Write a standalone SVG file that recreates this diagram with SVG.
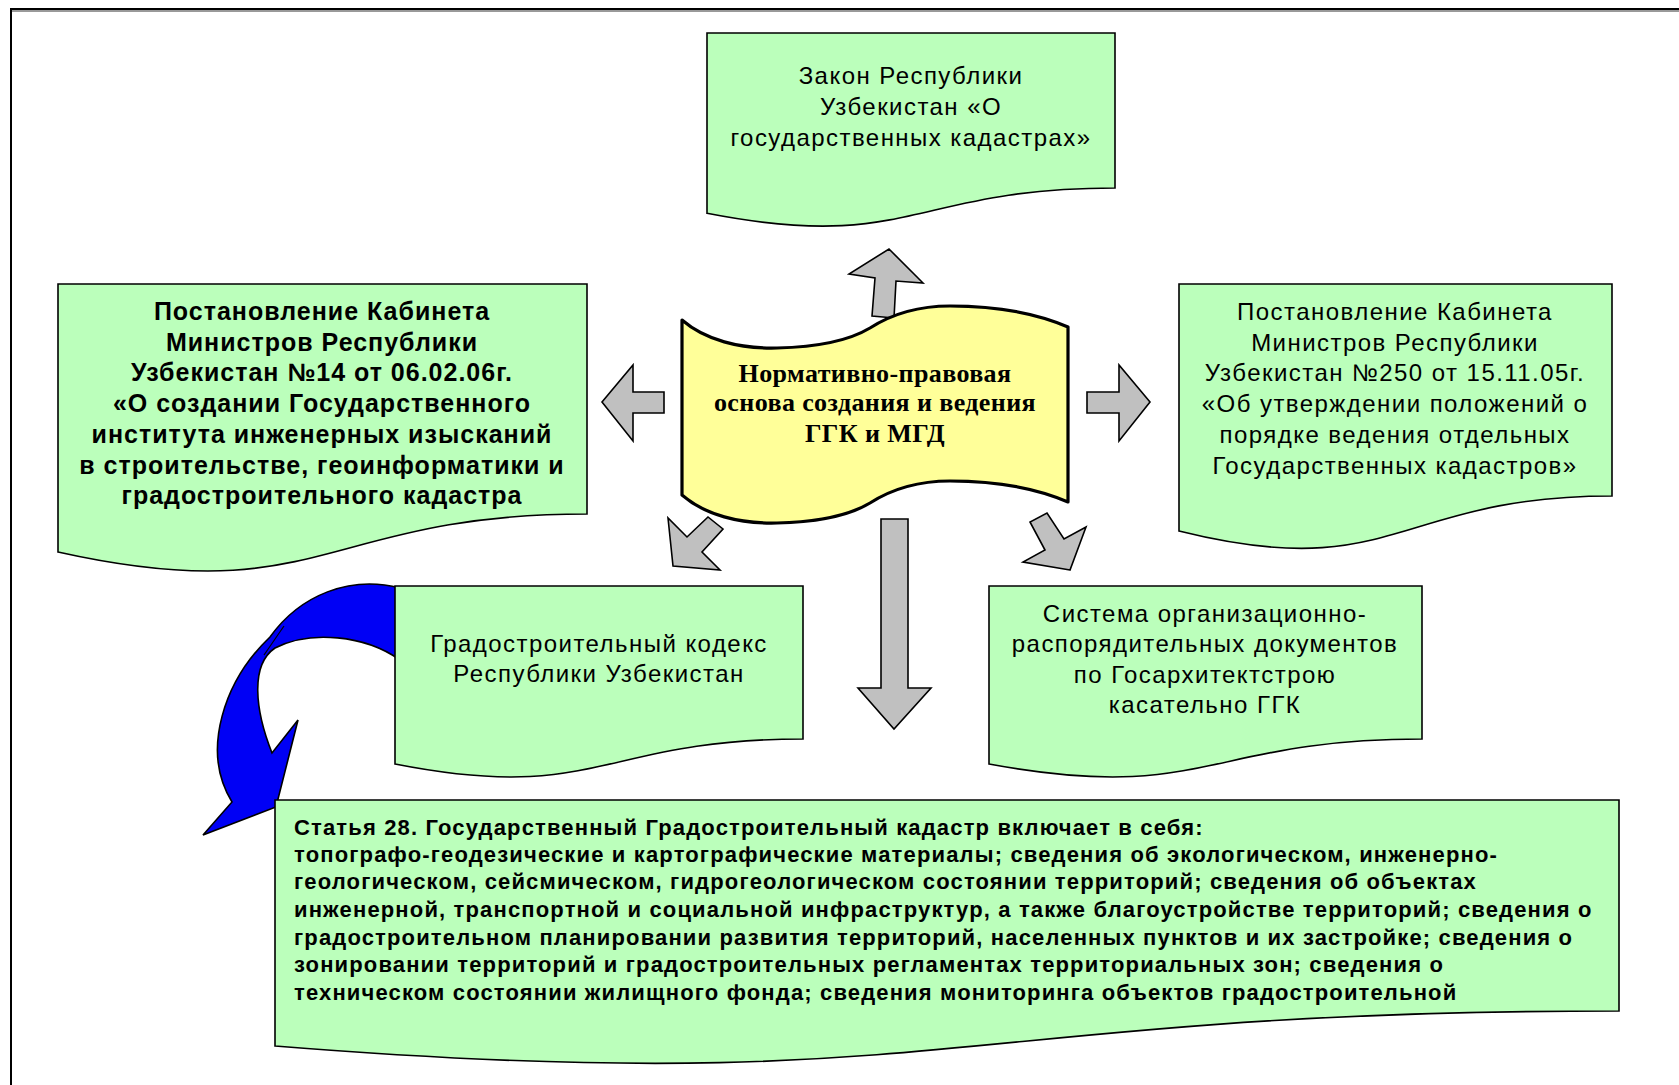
<svg xmlns="http://www.w3.org/2000/svg" width="1679" height="1085" viewBox="0 0 1679 1085">
<style>
.doc{fill:#BBFFBB;stroke:#000;stroke-width:1.6}
.arr{fill:#C0C0C0;stroke:#000;stroke-width:1.6;stroke-linejoin:miter}
.t{font-family:"Liberation Sans",Arial,sans-serif;font-size:24px;letter-spacing:1.45px;fill:#000;text-anchor:middle}
.b{font-weight:bold;font-size:25px;letter-spacing:1px}
.s{font-family:"Liberation Serif","Times New Roman",serif;font-size:26px;letter-spacing:0.4px;font-weight:bold;fill:#000;text-anchor:middle}
.bt{font-family:"Liberation Sans",Arial,sans-serif;font-size:22px;letter-spacing:1.15px;font-weight:bold;fill:#000}
</style>
<rect x="0" y="0" width="1679" height="1085" fill="#fff"/>
<g id="frame">
<line x1="10" y1="11" x2="1679" y2="11" stroke="#999" stroke-width="2"/>
<line x1="10" y1="9" x2="1679" y2="9" stroke="#000" stroke-width="2"/>
<line x1="11" y1="8" x2="11" y2="1085" stroke="#000" stroke-width="2"/>
</g>
<g id="connectors">
<g id="blue-arrow">
<path d="M400,588 C350,575 300,595 270,637 C225,680 200,750 232,802 L203,835 L276,807 L298,720 L272,753 C255,710 250,665 275,648 C310,630 365,635 400,660 Z" fill="#0000F5" stroke="#000" stroke-width="1.6" stroke-linejoin="miter"/>
<path d="M264,655 L284,626" fill="none" stroke="#000" stroke-width="1.2"/>
</g>
<polygon class="arr" points="889,249 923,283 896,281 894,318 872,316 875,278 849,274"/>
<polygon class="arr" points="602,402 633,365 633,392 664,392 664,413 633,413 633,441"/>
<polygon class="arr" points="1087,392 1119,392 1119,365 1150,402 1119,441 1119,413 1087,413"/>
<polygon class="arr" points="673,566 668,518 687,537 708,517 723,529 702,552 720,570"/>
<polygon class="arr" points="1070,570 1023,562 1045,550 1030,522 1047,513 1064,539 1086,527"/>
<polygon class="arr" points="881,519 908,519 908,688 931,688 894,729 858,688 881,688"/>
</g>
<g id="node-zakon">
<path class="doc" d="M707,33 H1115 V188 C911,188 911,253 707,213.3 Z"/>
<text class="t" x="911" y="84">Закон Республики</text>
<text class="t" x="911" y="115">Узбекистан «О</text>
<text class="t" x="911" y="146">государственных кадастрах»</text>
</g>
<g id="node-postanovlenie14">
<path class="doc" d="M58,284 H587 V514 C322.5,514 322.5,611 58,552 Z"/>
<g class="t b">
<text x="322" y="320">Постановление Кабинета</text>
<text x="322" y="351">Министров Республики</text>
<text x="322" y="381">Узбекистан №14 от 06.02.06г.</text>
<text x="322" y="412">«О создании Государственного</text>
<text x="322" y="443">института инженерных изысканий</text>
<text x="322" y="474">в строительстве, геоинформатики и</text>
<text x="322" y="504">градостроительного кадастра</text>
</g>
</g>
<g id="node-postanovlenie250">
<path class="doc" d="M1179,284 H1612 V496 C1395.5,496 1395.5,585 1179,531 Z"/>
<g class="t">
<text x="1395" y="320">Постановление Кабинета</text>
<text x="1395" y="351">Министров Республики</text>
<text x="1395" y="381">Узбекистан №250 от 15.11.05г.</text>
<text x="1395" y="412">«Об утверждении положений о</text>
<text x="1395" y="443">порядке ведения отдельных</text>
<text x="1395" y="474">Государственных кадастров»</text>
</g>
</g>
<g id="node-gradkodeks">
<path class="doc" d="M395,586 H803 V739 C599,739 599,804 395,764 Z"/>
<g class="t">
<text x="599" y="652">Градостроительный кодекс</text>
<text x="599" y="682">Республики Узбекистан</text>
</g>
</g>
<g id="node-sistema">
<path class="doc" d="M989,586 H1422 V739 C1205.5,739 1205.5,804 989,764 Z"/>
<g class="t">
<text x="1205" y="622">Система организационно-</text>
<text x="1205" y="652">распорядительных документов</text>
<text x="1205" y="683">по Госархитектстрою</text>
<text x="1205" y="713">касательно ГГК</text>
</g>
</g>
<g id="node-statya28">
<path class="doc" d="M275,800 H1619 V1011 C947,1011 947,1100 275,1046 Z"/>
<g class="bt">
<text x="294" y="835">Статья 28. Государственный Градостроительный кадастр включает в себя:</text>
<text x="294" y="862">топографо-геодезические и картографические материалы; сведения об экологическом, инженерно-</text>
<text x="294" y="889">геологическом, сейсмическом, гидрогеологическом состоянии территорий; сведения об объектах</text>
<text x="294" y="917">инженерной, транспортной и социальной инфраструктур, а также благоустройстве территорий; сведения о</text>
<text x="294" y="945">градостроительном планировании развития территорий, населенных пунктов и их застройке; сведения о</text>
<text x="294" y="972">зонировании территорий и градостроительных регламентах территориальных зон; сведения о</text>
<text x="294" y="1000">техническом состоянии жилищного фонда; сведения мониторинга объектов градостроительной</text>
</g>
</g>
<g id="node-center">
<path d="M682,320 C705,340 740,349 777,348 C820,347 850,340 870,328 C895,312 920,306 950,306 C1000,306 1040,315 1068,327 L1068,502 C1040,490 1000,481 950,481 C920,481 895,487 870,503 C850,515 820,522 777,523 C740,524 705,515 682,495 Z" fill="#FFFF99" stroke="#000" stroke-width="3.2" stroke-linejoin="round"/>
<text class="s" x="875" y="382">Нормативно-правовая</text>
<text class="s" x="875" y="411">основа создания и ведения</text>
<text class="s" x="875" y="442">ГГК и МГД</text>
</g>
</svg>
